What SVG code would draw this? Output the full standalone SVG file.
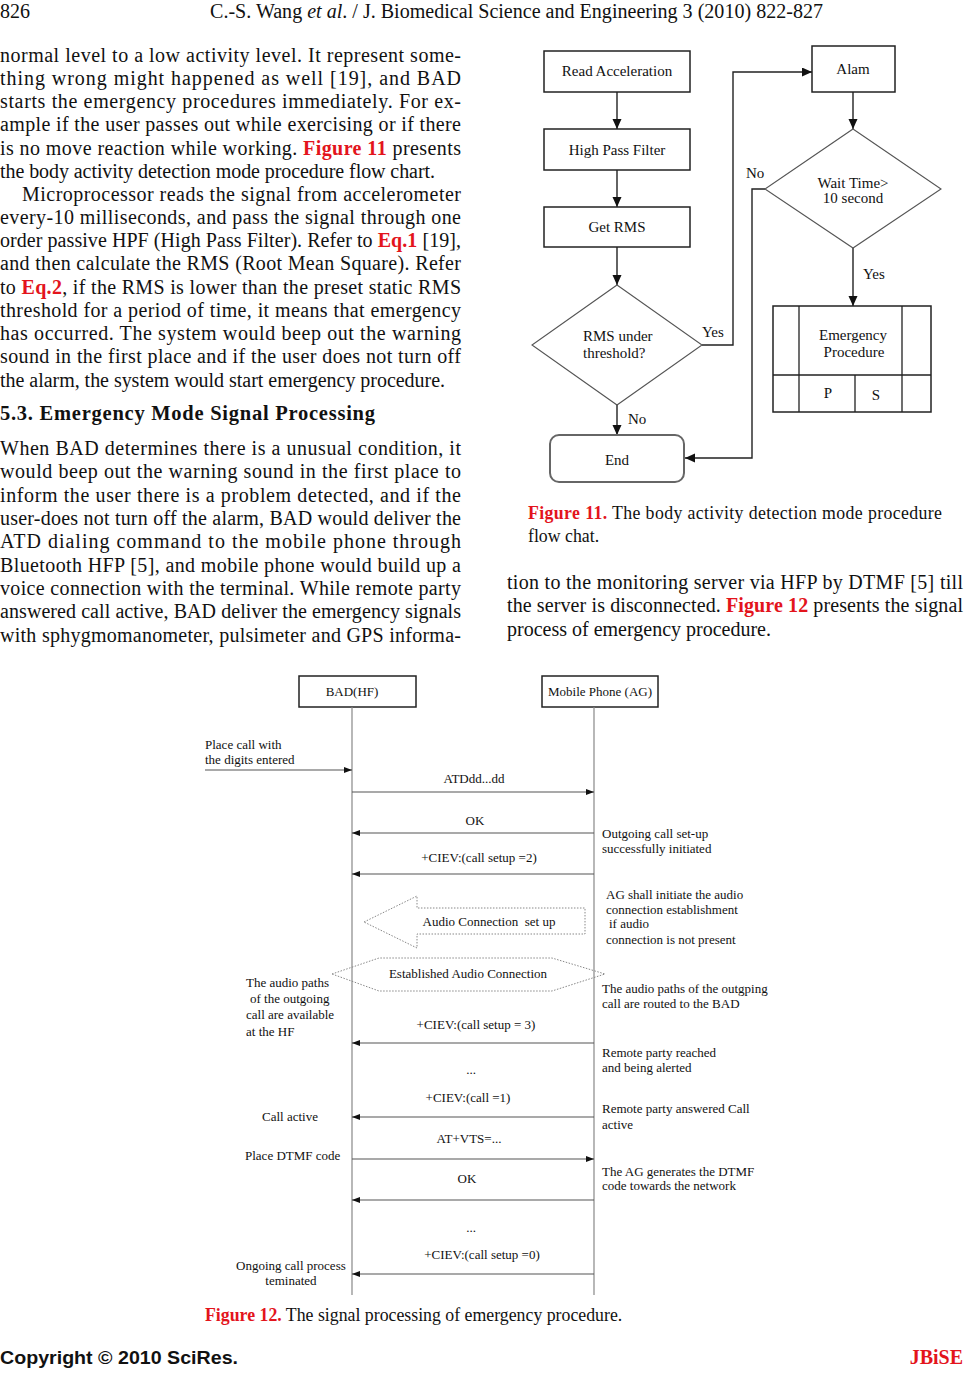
<svg xmlns="http://www.w3.org/2000/svg" width="965" height="1385" viewBox="0 0 965 1385">
<defs>
<style>
.body{font-family:"Liberation Serif","Times New Roman",serif;font-size:20px;fill:#111}
.red{fill:#e3141c;font-weight:bold}
.cap{font-family:"Liberation Serif","Times New Roman",serif;font-size:17.8px;fill:#111}
.fc{font-family:"Liberation Serif","Times New Roman",serif;font-size:15px;fill:#111}
.sq{font-family:"Liberation Serif","Times New Roman",serif;font-size:13px;fill:#111}
.box{fill:#fff;stroke:#222;stroke-width:1.5}
.dia{fill:#fff;stroke:#555;stroke-width:1.1}
.fl{fill:none;stroke:#222;stroke-width:1.4}
.life{fill:none;stroke:#888;stroke-width:1.2}
.msg{fill:none;stroke:#555;stroke-width:1.1}
.dot{fill:#fff;stroke:#888;stroke-width:1;stroke-dasharray:1.5 1.5}
</style>
<marker id="fa" markerUnits="userSpaceOnUse" markerWidth="10" markerHeight="10" refX="10" refY="4.5" orient="auto"><path d="M0,0 L10,4.5 L0,9 z" fill="#111"/></marker>
<marker id="sa" markerUnits="userSpaceOnUse" markerWidth="8" markerHeight="6" refX="8" refY="3" orient="auto"><path d="M0,0 L8,3 L0,6 z" fill="#111"/></marker>
</defs>
<rect width="965" height="1385" fill="#fff"/>

<g id="header">
<text class="body" x="0" y="18" font-size="18">826</text>
<text class="body" x="210" y="18" font-size="18" textLength="613" lengthAdjust="spacingAndGlyphs">C.-S. Wang <tspan font-style="italic">et al</tspan>. / J. Biomedical Science and Engineering 3 (2010) 822-827</text>
</g>

<g id="left-column" class="body">
<text x="0" y="62" textLength="461" lengthAdjust="spacing">normal level to a low activity level. It represent some-</text>
<text x="0" y="85" textLength="461" lengthAdjust="spacing">thing wrong might happened as well [19], and BAD</text>
<text x="0" y="108" textLength="461" lengthAdjust="spacing">starts the emergency procedures immediately. For ex-</text>
<text x="0" y="131" textLength="461" lengthAdjust="spacing">ample if the user passes out while exercising or if there</text>
<text x="0" y="155" textLength="461" lengthAdjust="spacing">is no move reaction while working. <tspan class="red">Figure 11</tspan> presents</text>
<text x="0" y="178" textLength="435" lengthAdjust="spacing">the body activity detection mode procedure flow chart.</text>
<text x="22" y="201" textLength="439" lengthAdjust="spacing">Microprocessor reads the signal from accelerometer</text>
<text x="0" y="224" textLength="461" lengthAdjust="spacing">every-10 milliseconds, and pass the signal through one</text>
<text x="0" y="247" textLength="461" lengthAdjust="spacing">order passive HPF (High Pass Filter). Refer to <tspan class="red">Eq.1</tspan> [19],</text>
<text x="0" y="270" textLength="461" lengthAdjust="spacing">and then calculate the RMS (Root Mean Square). Refer</text>
<text x="0" y="294" textLength="461" lengthAdjust="spacing">to <tspan class="red">Eq.2</tspan>, if the RMS is lower than the preset static RMS</text>
<text x="0" y="317" textLength="461" lengthAdjust="spacing">threshold for a period of time, it means that emergency</text>
<text x="0" y="340" textLength="461" lengthAdjust="spacing">has occurred. The system would beep out the warning</text>
<text x="0" y="363" textLength="461" lengthAdjust="spacing">sound in the first place and if the user does not turn off</text>
<text x="0" y="387" textLength="445" lengthAdjust="spacing">the alarm, the system would start emergency procedure.</text>
<text x="0" y="420" font-size="20.5" font-weight="bold" textLength="375" lengthAdjust="spacing">5.3. Emergency Mode Signal Processing</text>
<text x="0" y="455" textLength="461" lengthAdjust="spacing">When BAD determines there is a unusual condition, it</text>
<text x="0" y="478" textLength="461" lengthAdjust="spacing">would beep out the warning sound in the first place to</text>
<text x="0" y="502" textLength="461" lengthAdjust="spacing">inform the user there is a problem detected, and if the</text>
<text x="0" y="525" textLength="461" lengthAdjust="spacing">user-does not turn off the alarm, BAD would deliver the</text>
<text x="0" y="548" textLength="461" lengthAdjust="spacing">ATD dialing command to the mobile phone through</text>
<text x="0" y="572" textLength="461" lengthAdjust="spacing">Bluetooth HFP [5], and mobile phone would build up a</text>
<text x="0" y="595" textLength="461" lengthAdjust="spacing">voice connection with the terminal. While remote party</text>
<text x="0" y="618" textLength="461" lengthAdjust="spacing">answered call active, BAD deliver the emergency signals</text>
<text x="0" y="642" textLength="461" lengthAdjust="spacing">with sphygmomanometer, pulsimeter and GPS informa-</text>
</g>

<g id="right-column" class="body">
<text x="507" y="589" textLength="456" lengthAdjust="spacing">tion to the monitoring server via HFP by DTMF [5] till</text>
<text x="507" y="612" textLength="456" lengthAdjust="spacing">the server is disconnected. <tspan class="red">Figure 12</tspan> presents the signal</text>
<text x="507" y="636">process of emergency procedure.</text>
</g>

<g id="figure11">
<g id="connectors-fig11">
<line class="fl" x1="617" y1="92" x2="617" y2="129" marker-end="url(#fa)"/>
<line class="fl" x1="617" y1="170" x2="617" y2="207" marker-end="url(#fa)"/>
<line class="fl" x1="617" y1="247" x2="617" y2="285" marker-end="url(#fa)"/>
<line class="fl" x1="617" y1="405" x2="617" y2="435" marker-end="url(#fa)"/>
<path class="fl" d="M702,345 H733 V72 H812" marker-end="url(#fa)"/>
<line class="fl" x1="853" y1="92" x2="853" y2="129" marker-end="url(#fa)"/>
<line class="fl" x1="853" y1="248" x2="853" y2="306" marker-end="url(#fa)"/>
<path class="fl" d="M765,189 H752 V458 H685" marker-end="url(#fa)"/>
<text class="fc" x="702" y="337">Yes</text>
<text class="fc" x="746" y="178">No</text>
<text class="fc" x="863" y="279">Yes</text>
<text class="fc" x="628" y="424">No</text>
</g>
<g id="read-acceleration">
<rect class="box" x="544" y="51" width="146" height="41"/>
<text class="fc" x="617" y="76" text-anchor="middle">Read Acceleration</text>
</g>
<g id="high-pass-filter">
<rect class="box" x="544" y="129" width="146" height="41"/>
<text class="fc" x="617" y="155" text-anchor="middle">High Pass Filter</text>
</g>
<g id="get-rms">
<rect class="box" x="544" y="207" width="146" height="40"/>
<text class="fc" x="617" y="232" text-anchor="middle">Get RMS</text>
</g>
<g id="rms-under-threshold">
<polygon class="dia" points="617,285 702,345 617,405 532,345"/>
<text class="fc" x="583" y="341">RMS under</text>
<text class="fc" x="583" y="358">threshold?</text>
</g>
<g id="end">
<rect x="550" y="435" width="134" height="47" rx="9" fill="#fff" stroke="#666" stroke-width="2"/>
<text class="fc" x="617" y="465" text-anchor="middle">End</text>
</g>
<g id="alam">
<rect class="box" x="812" y="46" width="83" height="46"/>
<text class="fc" x="853" y="74" text-anchor="middle">Alam</text>
</g>
<g id="wait-time">
<polygon class="dia" points="853,129 941,189 853,248 765,189"/>
<text class="fc" x="853" y="188" text-anchor="middle">Wait Time&gt;</text>
<text class="fc" x="853" y="203" text-anchor="middle">10 second</text>
</g>
<g id="emergency-procedure">
<rect class="box" x="773" y="306" width="158" height="106" stroke-width="1.3"/>
<path d="M799,306 V412 M902,306 V412 M773,375 H931 M855,375 V412" fill="none" stroke="#222" stroke-width="1.3"/>
<text class="fc" x="853" y="340" text-anchor="middle">Emergency</text>
<text class="fc" x="854" y="357" text-anchor="middle">Procedure</text>
<text class="fc" x="828" y="398" text-anchor="middle">P</text>
<text class="fc" x="876" y="400" text-anchor="middle">S</text>
</g>
<text class="cap" x="528" y="519" textLength="414" lengthAdjust="spacing"><tspan class="red">Figure 11.</tspan> The body activity detection mode procedure</text>
<text class="cap" x="528" y="542">flow chat.</text>
</g>

<g id="figure12">
<g id="bad-hf">
<rect class="box" x="299" y="676" width="117" height="31" stroke-width="1.2"/>
<text class="sq" x="352" y="696" text-anchor="middle">BAD(HF)</text>
</g>
<g id="mobile-phone-ag">
<rect class="box" x="542" y="676" width="116" height="31" stroke-width="1.2"/>
<text class="sq" x="600" y="696" text-anchor="middle">Mobile Phone (AG)</text>
</g>
<g id="audio-connection-setup">
<polygon class="dot" points="364,922 417,896 417,908 585,908 585,934 417,934 417,948"/>
<text class="sq" x="489" y="926" text-anchor="middle" xml:space="preserve">Audio Connection  set up</text>
</g>
<g id="established-audio-connection">
<polygon class="dot" points="332,974 379,958 552,958 605,974 552,991 379,991"/>
<text class="sq" x="468" y="978" text-anchor="middle">Established Audio Connection</text>
</g>
<g id="connectors-fig12">
<line class="life" x1="352" y1="707" x2="352" y2="1295"/>
<line class="life" x1="594" y1="707" x2="594" y2="1295"/>
<line class="msg" x1="205" y1="770" x2="352" y2="770" marker-end="url(#sa)"/>
<line class="msg" x1="352" y1="792" x2="594" y2="792" marker-end="url(#sa)"/>
<line class="msg" x1="594" y1="833" x2="352" y2="833" marker-end="url(#sa)"/>
<line class="msg" x1="594" y1="874" x2="352" y2="874" marker-end="url(#sa)"/>
<line class="msg" x1="594" y1="1043" x2="352" y2="1043" marker-end="url(#sa)"/>
<line class="msg" x1="594" y1="1117" x2="352" y2="1117" marker-end="url(#sa)"/>
<line class="msg" x1="352" y1="1159" x2="594" y2="1159" marker-end="url(#sa)"/>
<line class="msg" x1="594" y1="1200" x2="352" y2="1200" marker-end="url(#sa)"/>
<line class="msg" x1="594" y1="1274" x2="352" y2="1274" marker-end="url(#sa)"/>
</g>
<g id="message-labels" class="sq" text-anchor="middle">
<text x="474" y="783">ATDdd...dd</text>
<text x="475" y="825">OK</text>
<text x="479" y="862">+CIEV:(call setup =2)</text>
<text x="476" y="1029">+CIEV:(call setup = 3)</text>
<text x="471" y="1074">...</text>
<text x="468" y="1102">+CIEV:(call =1)</text>
<text x="469" y="1143">AT+VTS=...</text>
<text x="467" y="1183">OK</text>
<text x="471" y="1232">...</text>
<text x="482" y="1259">+CIEV:(call setup =0)</text>
</g>
<g id="notes-left" class="sq">
<text x="205" y="749">Place call with</text>
<text x="205" y="764">the digits entered</text>
<text x="246" y="987">The audio paths</text>
<text x="250" y="1003">of the outgoing</text>
<text x="246" y="1019">call are available</text>
<text x="246" y="1036">at the HF</text>
<text x="262" y="1121">Call active</text>
<text x="245" y="1160">Place DTMF code</text>
<text x="236" y="1270">Ongoing call process</text>
<text x="291" y="1285" text-anchor="middle">teminated</text>
</g>
<g id="notes-right" class="sq">
<text x="602" y="838">Outgoing call set-up</text>
<text x="602" y="853">successfully initiated</text>
<text x="606" y="899">AG shall initiate the audio</text>
<text x="606" y="914">connection establishment</text>
<text x="609" y="928">if audio</text>
<text x="606" y="944">connection is not present</text>
<text x="602" y="993">The audio paths of the outgping</text>
<text x="602" y="1008">call are routed to the BAD</text>
<text x="602" y="1057">Remote party reached</text>
<text x="602" y="1072">and being alerted</text>
<text x="602" y="1113">Remote party answered Call</text>
<text x="602" y="1129">active</text>
<text x="602" y="1176">The AG generates the DTMF</text>
<text x="602" y="1190">code towards the network</text>
</g>
<text class="cap" x="205" y="1321"><tspan class="red">Figure 12.</tspan> The signal processing of emergency procedure.</text>
</g>

<g id="footer">
<text x="0" y="1364" font-family="'Liberation Sans',Arial,sans-serif" font-size="19" font-weight="bold" fill="#111" textLength="238" lengthAdjust="spacingAndGlyphs">Copyright © 2010 SciRes.</text>
<text x="963" y="1364" font-family="'Liberation Serif','Times New Roman',serif" font-size="20" font-weight="bold" fill="#e3141c" text-anchor="end">JBiSE</text>
</g>
</svg>
